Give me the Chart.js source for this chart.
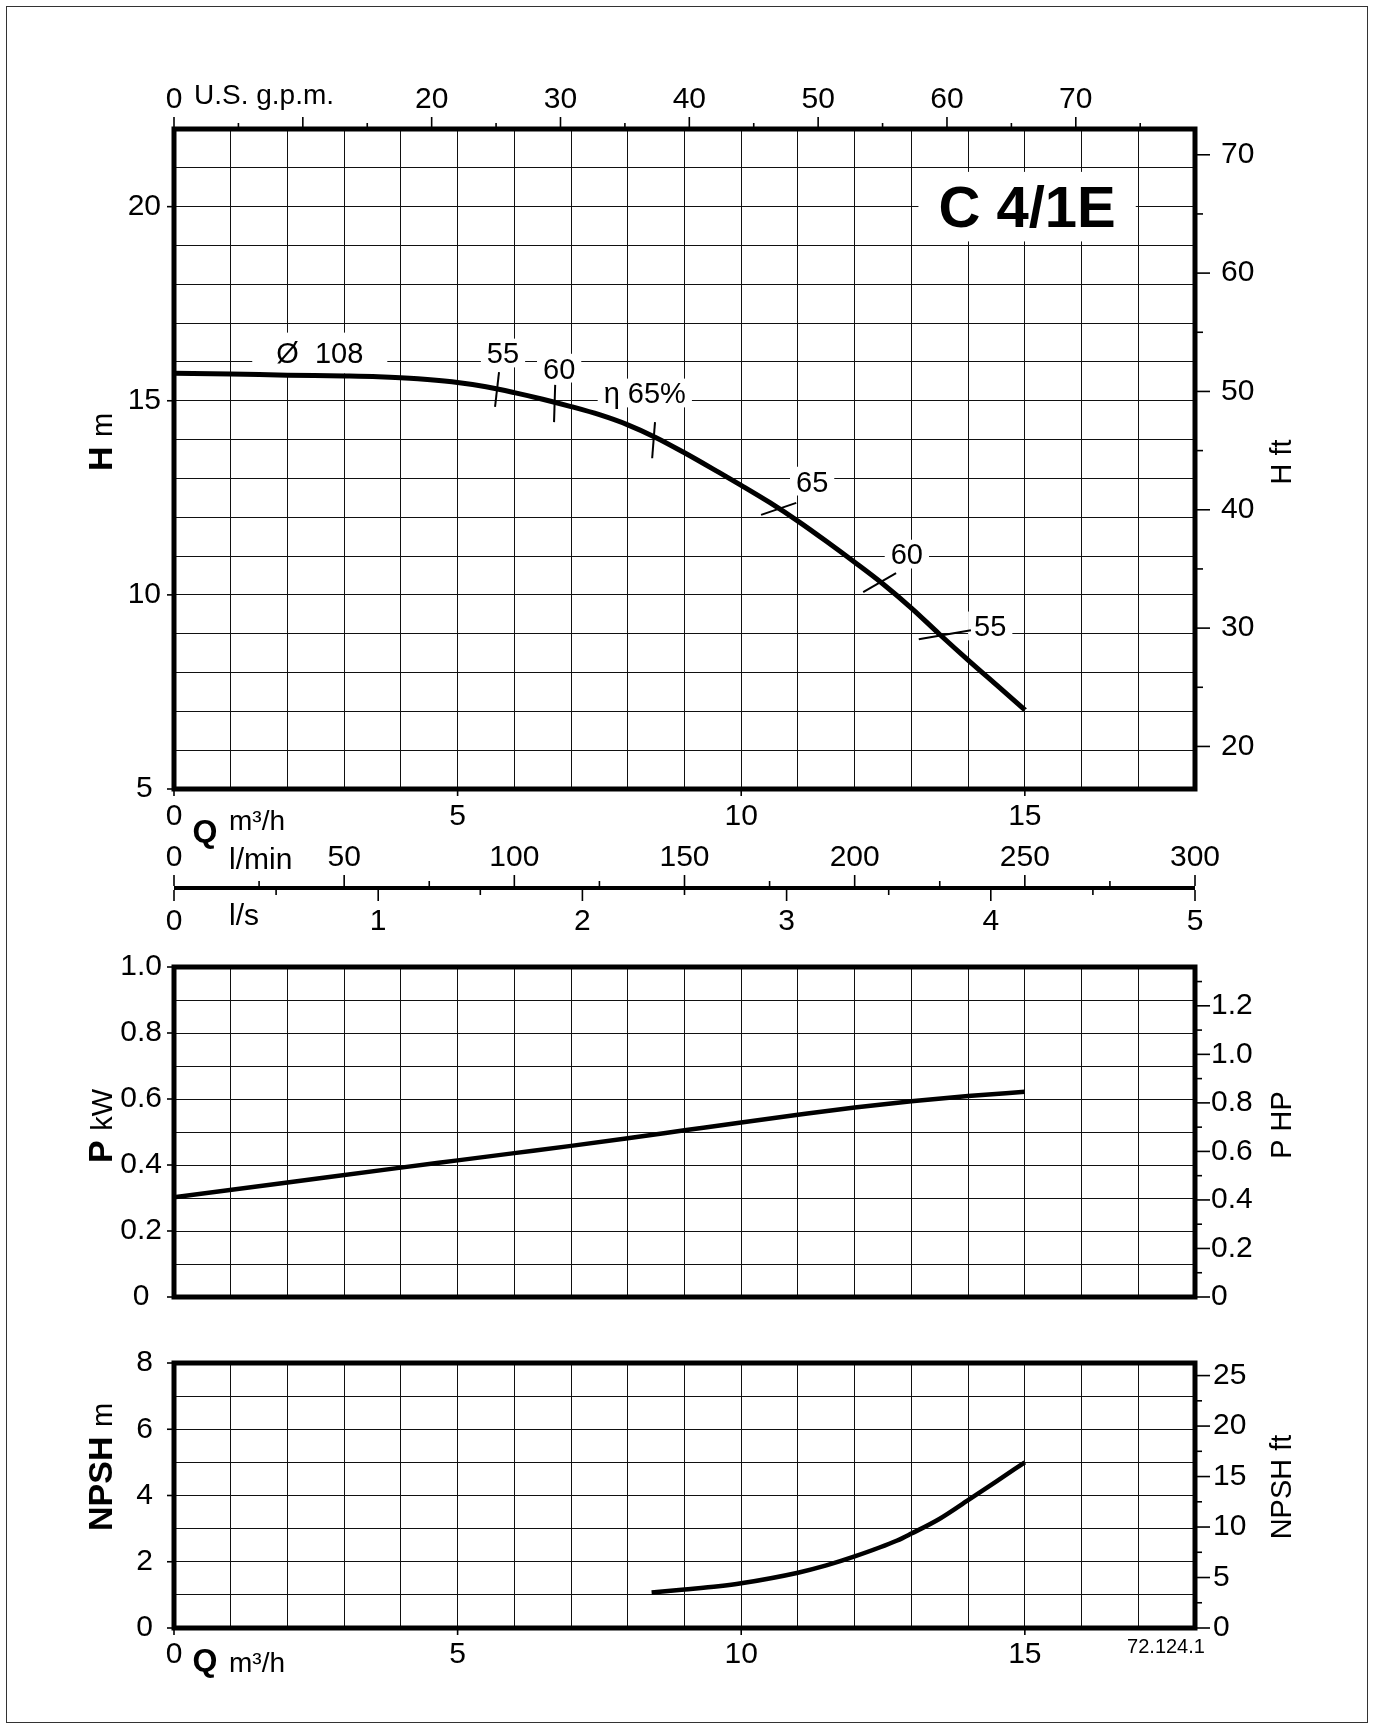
<!DOCTYPE html>
<html>
<head>
<meta charset="utf-8">
<title>C 4/1E</title>
<script src="https://cdn.jsdelivr.net/npm/chart.js@4.4.1/dist/chart.umd.min.js"></script>
<style>
  html, body { margin: 0; padding: 0; background: #fff; }
  #page { position: relative; width: 1374px; height: 1727px; overflow: hidden; background: #fff; }
  #page canvas { position: absolute; left: 0; top: 0; width: 1374px; height: 1727px; }
  #frame { position: absolute; left: 6px; top: 6px; width: 1360px; height: 1715px; border: 1px solid #333; }
</style>
</head>
<body>
<div id="page">
  <div id="frame"></div>
  <canvas id="head" width="1374" height="1727"></canvas>
  <canvas id="flow" width="1374" height="1727"></canvas>
  <canvas id="power" width="1374" height="1727"></canvas>
  <canvas id="npsh" width="1374" height="1727"></canvas>
</div>
<script>
// --- data (Q in m3/h) ---
const headQ = [0, 1, 2, 3, 3.6, 4.3, 4.9, 5.5, 6, 6.5, 7, 7.5, 8, 8.5, 9, 9.6, 10, 10.5, 11, 11.5, 12, 12.5, 13, 13.5, 14, 14.5, 15];
const headH = [15.71, 15.69, 15.66, 15.64, 15.62, 15.57, 15.49, 15.36, 15.21, 15.04, 14.85, 14.64, 14.38, 14.05, 13.66, 13.16, 12.82, 12.38, 11.9, 11.38, 10.84, 10.28, 9.66, 8.98, 8.32, 7.68, 7.04];

const powerQ = [0, 2, 4, 5, 6, 7, 8, 9, 10, 11, 12, 13, 14, 15];
const powerP = [0.302, 0.347, 0.392, 0.414, 0.436, 0.458, 0.481, 0.505, 0.529, 0.552, 0.574, 0.593, 0.609, 0.622];

const npshQ = [8.42, 9, 9.6, 10, 11, 11.5, 12, 12.75, 13, 13.5, 14, 14.5, 15];
const npshN = [1.07, 1.16, 1.26, 1.35, 1.67, 1.89, 2.16, 2.64, 2.85, 3.3, 3.86, 4.43, 5.0];

// efficiency marks crossing the Q-H curve
const effTickQ = [[5.73, 5.66], [6.72, 6.70], [8.48, 8.43], [10.97, 10.35], [12.73, 12.15], [14.05, 13.13]];
const effTickH = [[15.74, 14.84], [15.41, 14.45], [14.45, 13.52], [12.37, 12.06], [10.56, 10.07], [9.09, 8.86]];
const effText = ['55', '60', 'η 65%', '65', '60', '55'];
const effTextQ = [5.80, 6.79, 8.30, 11.25, 12.92, 14.39];
const effTextH = [16.23, 15.84, 15.2, 12.93, 11.05, 9.2];

// tick labels
const qLabels = [0, 5, 10, 15];
const gpmLabels = [0, 20, 30, 40, 50, 60, 70];
const hLabels = [5, 10, 15, 20];
const hftLabels = [20, 30, 40, 50, 60, 70];
const lminLabels = [0, 50, 100, 150, 200, 250, 300];
const lsLabels = [0, 1, 2, 3, 4, 5];
const pLabels = [0, 0.2, 0.4, 0.6, 0.8, 1.0];
const hpLabels = [0, 0.2, 0.4, 0.6, 0.8, 1.0, 1.2];
const npshLabels = [0, 2, 4, 6, 8];
const npshFtLabels = [0, 5, 10, 15, 20, 25];

const Q_MAX = 18;
const GPM = 4.4029;      // US gpm per m3/h
const LMIN = 1000 / 60;  // l/min per m3/h
const LS = 1 / 3.6;      // l/s per m3/h
const FT = 3.2808;       // ft per m
const HP = 1.36;         // metric hp per kW

const FONT = "'Liberation Sans', Arial, Helvetica, sans-serif";
Chart.defaults.font.family = FONT;
Chart.defaults.color = '#000';

const has = (arr, v) => arr.some(a => Math.abs(a - v) < 1e-6);
const isMult = (v, m) => Math.abs(v / m - Math.round(v / m)) < 1e-6;
const fmt1 = v => (Math.abs(v) < 1e-9 ? '0' : v.toFixed(1));

function linAxis(o) {
  return {
    type: 'linear',
    position: o.position,
    min: o.min,
    max: o.max,
    display: o.display !== false,
    border: { display: false },
    grid: { display: !!o.grid, drawOnChartArea: true, drawTicks: false, color: '#111', lineWidth: 1 },
    ticks: {
      display: o.labels !== null,
      stepSize: o.step,
      autoSkip: false,
      maxRotation: 0,
      minRotation: 0,
      includeBounds: false,
      padding: o.pad || 0,
      crossAlign: o.cross || 'near',
      color: '#000',
      font: { size: 30, lineHeight: 1 },
      callback: v => (o.labels && has(o.labels, v) ? (o.fmt ? o.fmt(v) : String(v)) : '')
    },
    afterFit: s => { if (s.isHorizontal()) s.height = o.size; else s.width = o.size; }
  };
}

function curve(xs, ys, width) {
  return {
    data: xs.map((x, i) => ({ x: x, y: ys[i] })),
    showLine: true, borderColor: '#000', borderWidth: width, pointRadius: 0,
    cubicInterpolationMode: 'monotone', fill: false
  };
}

function tickMarks(specs) {
  return {
    id: 'tickMarks',
    afterDraw(chart) {
      const ctx = chart.ctx;
      ctx.save();
      ctx.strokeStyle = '#000';
      ctx.lineWidth = 1.6;
      specs.forEach(sp => {
        const s = chart.scales[sp.id];
        s.ticks.forEach(t => {
          const len = isMult(t.value, sp.every) ? sp.major : sp.minor;
          if (!len) return;
          const p = s.getPixelForValue(t.value);
          ctx.beginPath();
          if (s.position === 'left') { ctx.moveTo(s.right, p); ctx.lineTo(s.right - len, p); }
          else if (s.position === 'right') { ctx.moveTo(s.left, p); ctx.lineTo(s.left + len, p); }
          else if (s.position === 'top') { ctx.moveTo(p, s.bottom); ctx.lineTo(p, s.bottom - len); }
          else { ctx.moveTo(p, s.top); ctx.lineTo(p, s.top + len); }
          ctx.stroke();
        });
      });
      ctx.restore();
    }
  };
}

function frame(chart) {
  const a = chart.chartArea, ctx = chart.ctx;
  ctx.save();
  ctx.strokeStyle = '#000';
  ctx.lineWidth = 5;
  ctx.strokeRect(a.left, a.top, a.right - a.left, a.bottom - a.top);
  ctx.restore();
}

function text(ctx, t, x, y, font, align) {
  ctx.save();
  ctx.font = font;
  ctx.fillStyle = '#000';
  ctx.textAlign = align || 'left';
  ctx.textBaseline = 'alphabetic';
  ctx.fillText(t, x, y);
  ctx.restore();
}

// rotated (reading bottom to top) title made of several font runs
function vTitle(ctx, parts, x, yc) {
  ctx.save();
  ctx.translate(x, yc);
  ctx.rotate(-Math.PI / 2);
  ctx.fillStyle = '#000';
  ctx.textBaseline = 'alphabetic';
  ctx.textAlign = 'left';
  let total = 0;
  parts.forEach(p => { ctx.font = p.f; p.w = ctx.measureText(p.t).width; total += p.w; });
  let cx = -total / 2;
  parts.forEach(p => { ctx.font = p.f; ctx.fillText(p.t, cx, 0); cx += p.w; });
  ctx.restore();
}

// boxed label inside a plot (white box hides the grid behind it)
function boxLabel(ctx, t, cx, cy, size, bold, padX, padY) {
  ctx.save();
  ctx.font = (bold ? 'bold ' : '') + size + 'px ' + FONT;
  const w = ctx.measureText(t).width;
  const cap = 0.716 * size;
  ctx.fillStyle = '#fff';
  ctx.fillRect(cx - w / 2 - padX, cy - cap / 2 - padY, w + 2 * padX, cap + 2 * padY);
  ctx.fillStyle = '#000';
  ctx.textAlign = 'center';
  ctx.textBaseline = 'alphabetic';
  ctx.fillText(t, cx, cy + cap / 2);
  ctx.restore();
}

const B = s => 'bold ' + s + 'px ' + FONT;
const N = s => s + 'px ' + FONT;

const base = {
  responsive: false, animation: false, events: [], devicePixelRatio: 1,
  plugins: { legend: { display: false }, tooltip: { enabled: false } }
};

// ---------- Q-H chart ----------
new Chart(document.getElementById('head'), {
  type: 'scatter',
  data: {
    datasets: [curve(headQ, headH, 5)].concat(effTickQ.map((q, i) => ({
      data: [{ x: q[0], y: effTickH[i][0] }, { x: q[1], y: effTickH[i][1] }],
      showLine: true, borderColor: '#000', borderWidth: 2, pointRadius: 0
    })))
  },
  options: Object.assign({}, base, {
    layout: { autoPadding: false, padding: { left: 74, right: 79, top: 69, bottom: 878 } },
    scales: {
      x: linAxis({ position: 'bottom', min: 0, max: Q_MAX, step: 1, labels: qLabels, pad: 13, size: 60, grid: true }),
      xg: linAxis({ position: 'top', min: 0, max: Q_MAX * GPM, step: 5, labels: gpmLabels, pad: 14, size: 60 }),
      y: linAxis({ position: 'left', min: 5, max: 22, step: 1, labels: hLabels, pad: 13, size: 100, grid: true, cross: 'center' }),
      yf: linAxis({ position: 'right', min: 5 * FT, max: 22 * FT, step: 5, labels: hftLabels, pad: 26, size: 100 })
    }
  }),
  plugins: [
    tickMarks([
      { id: 'x', every: 5, major: 7, minor: 0 },
      { id: 'xg', every: 10, major: 12, minor: 6 },
      { id: 'y', every: 5, major: 7, minor: 0 },
      { id: 'yf', every: 10, major: 15, minor: 8 }
    ]),
    {
      id: 'headDecor',
      beforeDatasetsDraw(chart) {
        const ctx = chart.ctx, x = chart.scales.x, y = chart.scales.y;
        boxLabel(ctx, 'Ø  108', x.getPixelForValue(2.57), y.getPixelForValue(16.23), 29, false, 24, 10);
        effText.forEach((t, i) => {
          boxLabel(ctx, t, x.getPixelForValue(effTextQ[i]), y.getPixelForValue(effTextH[i]), 29, false, 6, 4);
        });
        boxLabel(ctx, 'C 4/1E', x.getPixelForValue(15.04), y.getPixelForValue(20), 58, true, 20, 14);
      },
      afterDraw(chart) {
        const ctx = chart.ctx, a = chart.chartArea;
        frame(chart);
        text(ctx, 'U.S. g.p.m.', a.left + 20, a.top - 25, N(28));
        text(ctx, 'Q', a.left + 31, a.bottom + 53, B(32), 'center');
        text(ctx, 'm³/h', a.left + 55, a.bottom + 41, N(28));
        vTitle(ctx, [{ t: 'H ', f: B(34) }, { t: 'm', f: N(29) }], a.left - 62, 442);
        vTitle(ctx, [{ t: 'H ft', f: N(29) }], a.right + 96, 462);
      }
    }
  ]
});

// ---------- flow unit scale (l/min, l/s) ----------
new Chart(document.getElementById('flow'), {
  type: 'scatter',
  data: { datasets: [] },
  options: Object.assign({}, base, {
    layout: { autoPadding: false, padding: { left: 174, right: 179, top: 826, bottom: 777 } },
    scales: {
      x: linAxis({ position: 'top', min: 0, max: Q_MAX * LMIN, step: 25, labels: lminLabels, pad: 13, size: 60 }),
      x2: linAxis({ position: 'bottom', min: 0, max: Q_MAX * LS, step: 0.5, labels: lsLabels, pad: 17, size: 60 }),
      y: { type: 'linear', display: false, min: 0, max: 1 }
    }
  }),
  plugins: [
    tickMarks([
      { id: 'x', every: 50, major: 11, minor: 5 },
      { id: 'x2', every: 1, major: 11, minor: 5 }
    ]),
    {
      id: 'flowDecor',
      afterDraw(chart) {
        const ctx = chart.ctx, a = chart.chartArea;
        ctx.save();
        ctx.fillStyle = '#000';
        ctx.fillRect(a.left, a.top, a.right - a.left, a.bottom - a.top);
        ctx.restore();
        text(ctx, 'l/min', a.left + 55, a.top - 17, N(30));
        text(ctx, 'l/s', a.left + 55, a.bottom + 35, N(30));
      }
    }
  ]
});

// ---------- power chart ----------
new Chart(document.getElementById('power'), {
  type: 'scatter',
  data: { datasets: [curve(powerQ, powerP, 4.5)] },
  options: Object.assign({}, base, {
    layout: { autoPadding: false, padding: { left: 74, right: 79, top: 967, bottom: 430 } },
    scales: {
      x: linAxis({ position: 'bottom', min: 0, max: Q_MAX, step: 1, labels: null, size: 0, grid: true }),
      y: linAxis({ position: 'left', min: 0, max: 1, step: 0.1, labels: pLabels, fmt: fmt1, pad: 12, size: 100, grid: true, cross: 'center' }),
      yh: linAxis({ position: 'right', min: 0, max: HP, step: 0.1, labels: hpLabels, fmt: fmt1, pad: 16, size: 100 })
    }
  }),
  plugins: [
    tickMarks([
      { id: 'y', every: 0.2, major: 7, minor: 0 },
      { id: 'yh', every: 0.2, major: 15, minor: 7 }
    ]),
    {
      id: 'powerDecor',
      afterDraw(chart) {
        const ctx = chart.ctx, a = chart.chartArea;
        frame(chart);
        vTitle(ctx, [{ t: 'P ', f: B(34) }, { t: 'kW', f: N(29) }], a.left - 62, 1126);
        vTitle(ctx, [{ t: 'P HP', f: N(29) }], a.right + 96, 1125);
      }
    }
  ]
});

// ---------- NPSH chart ----------
new Chart(document.getElementById('npsh'), {
  type: 'scatter',
  data: { datasets: [curve(npshQ, npshN, 4.5)] },
  options: Object.assign({}, base, {
    layout: { autoPadding: false, padding: { left: 74, right: 79, top: 1363, bottom: 39 } },
    scales: {
      x: linAxis({ position: 'bottom', min: 0, max: Q_MAX, step: 1, labels: qLabels, pad: 12, size: 60, grid: true }),
      y: linAxis({ position: 'left', min: 0, max: 8, step: 1, labels: npshLabels, pad: 21, size: 100, grid: true, cross: 'center' }),
      yf: linAxis({ position: 'right', min: 0, max: 8 * FT, step: 2.5, labels: npshFtLabels, pad: 18, size: 100 })
    }
  }),
  plugins: [
    tickMarks([
      { id: 'x', every: 5, major: 7, minor: 0 },
      { id: 'y', every: 2, major: 7, minor: 0 },
      { id: 'yf', every: 5, major: 15, minor: 7 }
    ]),
    {
      id: 'npshDecor',
      afterDraw(chart) {
        const ctx = chart.ctx, a = chart.chartArea;
        frame(chart);
        text(ctx, 'Q', a.left + 31, a.bottom + 43, B(32), 'center');
        text(ctx, 'm³/h', a.left + 55, a.bottom + 44, N(28));
        text(ctx, '72.124.1', a.right - 29, a.bottom + 25, N(20), 'center');
        vTitle(ctx, [{ t: 'NPSH ', f: B(34) }, { t: 'm', f: N(29) }], a.left - 62, 1467);
        vTitle(ctx, [{ t: 'NPSH ft', f: N(29) }], a.right + 96, 1487);
      }
    }
  ]
});
</script>
</body>
</html>
